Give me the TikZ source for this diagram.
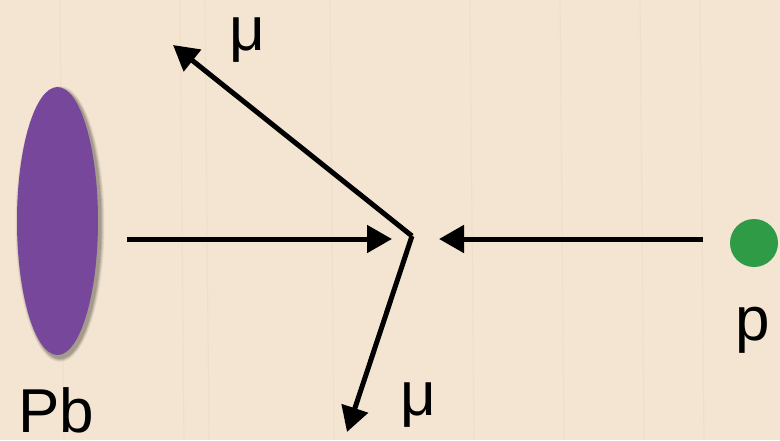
\documentclass[tikz,border=0pt]{standalone}
\usepackage{fontspec}
\setmainfont{Liberation Sans}
\usetikzlibrary{arrows.meta}
\definecolor{wood}{HTML}{F3E5D1}
\definecolor{woodline}{HTML}{E8D5BC}
\definecolor{pbpurple}{HTML}{76479A}
\definecolor{pgreen}{HTML}{2F9B46}
\tikzset{
  arr/.style={line width=5pt, -{Triangle[length=25pt,width=27pt]}},
  lbl/.style={font=\fontsize{62}{62}\selectfont, inner sep=0pt, anchor=base west},
}
\begin{document}
\begin{tikzpicture}[x=1pt,y=-1pt]
\fill[wood] (0,0) rectangle (780,440);
\useasboundingbox (0,0) rectangle (780,440);
% faint wood grain
\foreach \gx in {60,180,205,330,470,560,640,700}{
  \draw[woodline, line width=1.2pt, opacity=0.35] (\gx,0) -- (\gx+4,440);
}
% nucleus shadow (soft)
\foreach \s/\o in {8/0.06,6/0.08,4/0.10,2/0.12}{
  \fill[black, opacity=\o] (60,224) ellipse (40.5+\s*0.5 and 134+\s*0.5);
}
\fill[pbpurple] (57.5,221) ellipse (40.5 and 134);
\node[circle, fill=pgreen, minimum size=48pt, inner sep=0pt] (proton) at (754,243) {};
% coordinates
\coordinate (v) at (412,236);
\coordinate (lin) at (127,239);
\coordinate (lintip) at (392,239);
\coordinate (rin) at (703,239);
\coordinate (rintip) at (439,239);
\coordinate (mu1) at (173,45);
\coordinate (mu2) at (347,432);
% arrows
\draw[arr] (lin) -- (lintip);
\draw[arr] (rin) -- (rintip);
\draw[arr] (v) -- (mu1);
\draw[arr] (v) -- (mu2);
% labels
\node[lbl] (mulab1) at (229,50) {μ};
\node[lbl] (mulab2) at (400,415) {μ};
\node[lbl] (plab) at (735,340) {p};
\node[lbl] (pblab) at (18,432) {Pb};
\end{tikzpicture}
\end{document}
